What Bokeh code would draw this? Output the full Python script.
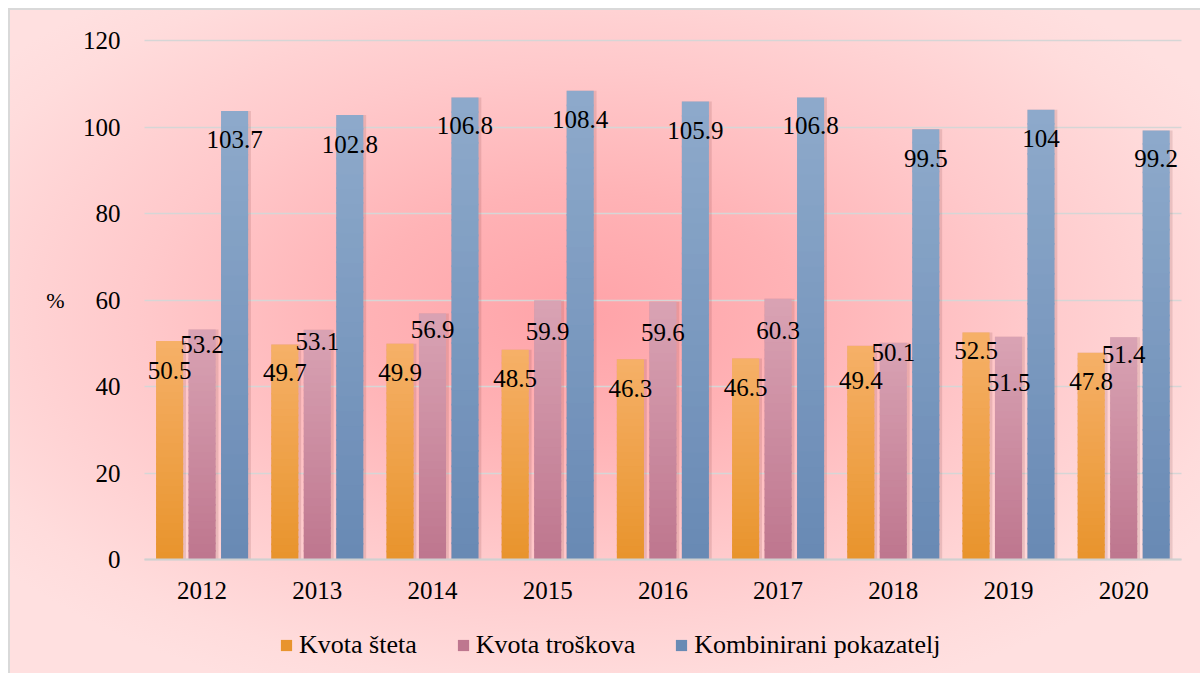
from bokeh.plotting import figure
from bokeh.models import (ColumnDataSource, Range1d, FixedTicker, Legend, LegendItem, Label)
from bokeh.core.properties import value
from bokeh.embed import file_html
from bokeh.resources import INLINE

# ---------------- data ----------------
years = ["2012", "2013", "2014", "2015", "2016", "2017", "2018", "2019", "2020"]
kvota_steta = [50.5, 49.7, 49.9, 48.5, 46.3, 46.5, 49.4, 52.5, 47.8]
kvota_troskova = [53.2, 53.1, 56.9, 59.9, 59.6, 60.3, 50.1, 51.5, 51.4]
kombinirani = [103.7, 102.8, 106.8, 108.4, 105.9, 106.8, 99.5, 104, 99.2]
series_names = ["Kvota šteta", "Kvota troškova", "Kombinirani pokazatelj"]
y_ticks = [0, 20, 40, 60, 80, 100, 120]
y_unit = "%"

# ---------------- styles / layout ----------------
FONT = "Liberation Serif"
QFONT = "'Liberation Serif', serif"
FS = "25px"
top_colors = [(246, 176, 104), (217, 163, 180), (142, 170, 203)]
bot_colors = [(232, 148, 44), (190, 118, 142), (104, 137, 180)]
offsets = [-0.282, 0.0, 0.282]
bar_w = 0.235
# label centre distance below bar top, in pixels
label_px = [
    [29, 28, 29, 29, 29, 29.6, 35, 18, 29],
    [15, 12, 16, 31, 30.5, 32, 10, 46, 17],
    [29, 30, 28, 29, 29, 28, 29.5, 29, 28],
]
N_SLICES = 30
W, H = 1192, 665
PX_PER_CAT = 115.2
PLOT_LEFT = 134          # px from canvas left to first category edge
PLOT_TOP = 30            # px from canvas top to y max tick
PLOT_H = 519             # px for 0..120
YMAX = 120
n = len(years)
px_per_y = PLOT_H / YMAX

x_start = -0.5 - PLOT_LEFT / PX_PER_CAT
x_end = x_start + W / PX_PER_CAT
y_end = YMAX + PLOT_TOP / px_per_y
y_start = YMAX - (H - PLOT_TOP) / px_per_y

p = figure(x_range=Range1d(x_start, x_end), y_range=Range1d(y_start, y_end),
           width=W, height=H, output_backend="svg", toolbar_location=None,
           min_border=0)
p.border_fill_color = None
p.background_fill_color = None
p.outline_line_color = None
p.styles = {
    "background": "radial-gradient(ellipse 62% 62% at 48% 46%, #ffa3a8 0%, #ffb3b6 30%, #ffc9cb 60%, #ffdcdc 90%, #ffe0e0 100%)",
    "border-top": "2px solid #d9d9d9",
    "border-left": "2px solid #d9d9d9",
    "margin-left": "8px",
    "margin-top": "8px",
}

idx = list(range(n))
p.xgrid.grid_line_color = None
p.ygrid.grid_line_color = "#d6d6d6"
p.ygrid.grid_line_width = 1.5
p.ygrid.cross_bounds = (-0.5, n - 0.5)
p.ygrid.ticker = FixedTicker(ticks=y_ticks)

p.yaxis.ticker = FixedTicker(ticks=y_ticks)
p.yaxis.fixed_location = -0.5
p.yaxis.bounds = (0, YMAX)
p.yaxis.axis_line_color = None
p.yaxis.major_tick_line_color = None
p.yaxis.minor_tick_line_color = None
p.yaxis.major_tick_out = 0
p.yaxis.major_tick_in = 0
p.yaxis.major_label_standoff = 24

p.xaxis.ticker = FixedTicker(ticks=idx)
p.xaxis.major_label_overrides = {i: y for i, y in zip(idx, years)}
p.xaxis.fixed_location = 0
p.xaxis.bounds = (-0.5, n - 0.5)
p.xaxis.axis_line_color = "#d0d0d0"
p.xaxis.axis_line_width = 2
p.xaxis.major_tick_line_color = None
p.xaxis.minor_tick_line_color = None
p.xaxis.major_tick_out = 0
p.xaxis.major_tick_in = 0
p.xaxis.major_label_standoff = 22
for ax in (p.xaxis, p.yaxis):
    ax.major_label_text_font = FONT
    ax.major_label_text_font_size = FS
    ax.major_label_text_color = "black"

all_vals = [kvota_steta, kvota_troskova, kombinirani]
legend_items = []
for s, vals in enumerate(all_vals):
    # soft shadow
    sh = ColumnDataSource(dict(x=[i + offsets[s] + 0.012 for i in idx], top=vals))
    p.vbar(x="x", top="top", bottom=0, width=bar_w + 0.025, source=sh,
           fill_color="#6b2b2b", fill_alpha=0.14, line_color=None)
    xs, bots, tops, cols = [], [], [], []
    for i, v in enumerate(vals):
        for k in range(N_SLICES):
            t = (k + 0.5) / N_SLICES
            c = tuple(int(round(bot_colors[s][j] + (top_colors[s][j] - bot_colors[s][j]) * t)) for j in range(3))
            xs.append(i + offsets[s])
            bots.append(v * k / N_SLICES)
            tops.append(v * (k + 1) / N_SLICES + (0.4 if k < N_SLICES - 1 else 0))
            cols.append("#%02x%02x%02x" % c)
    src = ColumnDataSource(dict(x=xs, bottom=bots, top=tops, color=cols))
    r = p.vbar(x="x", top="top", bottom="bottom", width=bar_w, source=src,
               fill_color="color", line_color=None)
    legend_items.append(LegendItem(label=series_names[s], renderers=[r]))

for s, vals in enumerate(all_vals):
    ly = [v - label_px[s][i] / px_per_y for i, v in enumerate(vals)]
    txt = [("%g" % v) for v in vals]
    ls = ColumnDataSource(dict(x=[i + offsets[s] for i in idx], y=ly, t=txt))
    p.text(x="x", y="y", text="t", source=ls,
           text_font=value(QFONT), text_font_size=FS, text_color="black",
           text_align="center", text_baseline="middle")

pct = Label(x=45, y=60, x_units="screen", y_units="data", text=y_unit,
            text_font=QFONT, text_font_size="22px", text_color="black",
            text_align="center", text_baseline="middle")
p.add_layout(pct)

legend = Legend(items=legend_items, orientation="horizontal", location=(269, 15),
                background_fill_alpha=0, border_line_color=None, padding=0, margin=0,
                spacing=39, label_standoff=6, glyph_width=14, glyph_height=14,
                label_text_font=QFONT, label_text_font_size="26px",
                label_text_color="black")
p.add_layout(legend, "center")

open("out.html", "w").write(file_html(p, INLINE))
